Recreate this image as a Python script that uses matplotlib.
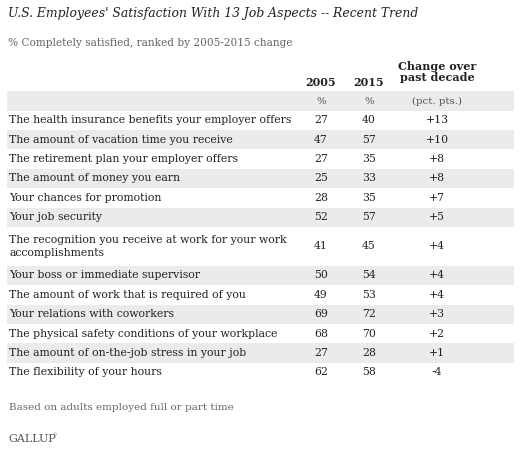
import matplotlib
matplotlib.use("Agg")
import matplotlib.pyplot as plt

aspects = ["The health insurance benefits your employer offers",
           "The amount of vacation time you receive",
           "The retirement plan your employer offers",
           "The amount of money you earn",
           "Your chances for promotion",
           "Your job security",
           "The recognition you receive at work for your work\naccomplishments",
           "Your boss or immediate supervisor",
           "The amount of work that is required of you",
           "Your relations with coworkers",
           "The physical safety conditions of your workplace",
           "The amount of on-the-job stress in your job",
           "The flexibility of your hours"]
v2005 = [27, 47, 27, 25, 28, 52, 41, 50, 49, 69, 68, 27, 62]
v2015 = [40, 57, 35, 33, 35, 57, 45, 54, 53, 72, 70, 28, 58]
change = ["+13", "+10", "+8", "+8", "+7", "+5", "+4", "+4", "+4", "+3", "+2", "+1", "-4"]

fig = plt.figure(figsize=(5.21, 4.63), dpi=100)
ax = fig.add_axes([0, 0, 1, 1])
ax.set_xlim(0, 521); ax.set_ylim(463, 0); ax.axis("off")
F = "DejaVu Serif"
gray = "#ebebeb"
tc = "#222222"

ax.text(8, 14, "U.S. Employees' Satisfaction With 13 Job Aspects -- Recent Trend",
        fontsize=8.9, style="italic", family=F, va="center", color=tc)
ax.text(8, 43, "% Completely satisfied, ranked by 2005-2015 change",
        fontsize=7.6, family=F, va="center", color="#666666")
ax.text(321, 82, "2005", fontsize=8, weight="bold", family=F, ha="center", va="center", color=tc)
ax.text(369, 82, "2015", fontsize=8, weight="bold", family=F, ha="center", va="center", color=tc)
ax.text(437, 72, "Change over\npast decade", fontsize=8, weight="bold", family=F,
        ha="center", va="center", color=tc, linespacing=1.1)
ax.axhspan(91, 110.5, xmin=7/521, xmax=514/521, color=gray, lw=0)
for x, s in [(321, "%"), (369, "%"), (437, "(pct. pts.)")]:
    ax.text(x, 101, s, fontsize=7.4, family=F, ha="center", va="center", color="#555555")

y = 110.5
h = 19.4
for i, (a, p, q, c) in enumerate(zip(aspects, v2005, v2015, change)):
    rh = h * 2 if "\n" in a else h
    if i % 2 == 1:
        ax.axhspan(y, y + rh, xmin=7/521, xmax=514/521, color=gray, lw=0)
    cy = y + rh / 2
    ax.text(9, cy, a, fontsize=7.8, family=F, va="center", color=tc, linespacing=1.35)
    ax.text(321, cy, str(p), fontsize=7.8, family=F, ha="center", va="center", color=tc)
    ax.text(369, cy, str(q), fontsize=7.8, family=F, ha="center", va="center", color=tc)
    ax.text(437, cy, c, fontsize=7.8, family=F, ha="center", va="center", color=tc)
    y += rh

ax.text(9, 408, "Based on adults employed full or part time", fontsize=7.5,
        family=F, va="center", color="#666666")
ax.text(8, 439, "GALLUP", fontsize=8, family=F, va="center", color="#555555")
ax.text(52, 435, "®", fontsize=3, family=F, va="center", color="#555555")
fig.savefig("out.png", dpi=100)
